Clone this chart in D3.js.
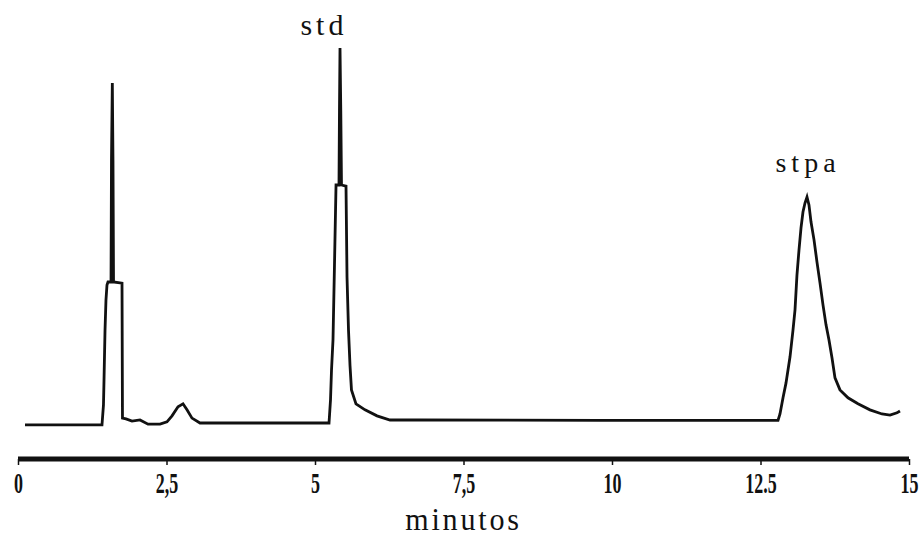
<!DOCTYPE html>
<html>
<head>
<meta charset="utf-8">
<script src="https://cdn.jsdelivr.net/npm/d3@7"></script>
<style>
  html, body { margin: 0; padding: 0; background: #fff; }
  svg { display: block; }
</style>
</head>
<body>
<svg id="chart" width="924" height="537"></svg>
<script>
// ---- data (minutes, detector signal in arbitrary units) ----
const times = [
  0.118, 0.707, 1.414, 1.439, 1.448, 1.465, 1.481, 1.498, 1.515, 1.566, 1.574, 1.588, 1.599, 1.608,
  1.751, 1.759, 1.818, 1.919, 2.054, 2.189, 2.391, 2.508, 2.593, 2.694, 2.778, 2.845, 2.929, 3.064,
  5.236, 5.261, 5.278, 5.303, 5.328, 5.354, 5.404, 5.412, 5.421, 5.434, 5.446, 5.522, 5.539, 5.564,
  5.589, 5.614, 5.690, 5.842, 6.044, 6.263, 6.768, 9.798, 12.795,
  12.828, 12.879, 12.929, 12.997, 13.047, 13.081, 13.114, 13.148, 13.182, 13.215, 13.249, 13.283,
  13.316, 13.350, 13.401, 13.451, 13.502, 13.552, 13.603, 13.653, 13.704, 13.754, 13.838, 13.973,
  14.141, 14.343, 14.545, 14.680, 14.798, 14.848
];
const signal = [
  0.3, 0.3, 0.3, 5.6, 12.2, 25.5, 33.5, 37.5, 38.3, 38.3, 70.7, 91.2, 70.7, 38.3,
  38.0, 2.1, 1.9, 1.3, 1.6, 0.5, 0.5, 1.1, 2.7, 5.1, 5.9, 4.3, 2.1, 0.8,
  0.8, 6.9, 14.9, 22.9, 42.8, 64.1, 64.1, 84.0, 100.5, 84.0, 64.1, 63.8, 39.6, 25.5,
  16.2, 9.6, 5.9, 4.3, 2.7, 1.6, 1.6, 1.5, 1.5,
  3.2, 7.5, 11.4, 18.4, 25.5, 30.9, 40.2, 46.8, 52.7, 56.9, 59.3, 60.9,
  58.8, 54.3, 49.5, 43.6, 38.0, 32.2, 26.9, 22.9, 18.1, 12.8, 9.6, 7.5,
  5.9, 4.3, 3.2, 2.9, 3.5, 4.0
];
const tickValues = [0, 2.5, 5, 7.5, 10, 12.5, 15];
const tickLabels = ["0", "2,5", "5", "7,5", "10", "12.5", "15"];
const peakNames = ["std", "stpa"];
const peakTimes = [5.15, 13.3];
const peakLabelLevels = [104, 67.5];
const xTitle = "minutos";

// ---- drawing ----
const svg = d3.select("#chart");
const x = d3.scaleLinear().domain([0, 15]).range([18, 909]);
const y = d3.scaleLinear().domain([0, 100]).range([426, 50]);
const serif = "'Liberation Serif', 'DejaVu Serif', serif";

const pts = times.map((t, i) => [t, signal[i]]);
svg.append("path")
  .datum(pts)
  .attr("fill", "none")
  .attr("stroke", "#111")
  .attr("stroke-width", 2.8)
  .attr("stroke-linejoin", "miter")
  .attr("d", d3.line().x(d => x(d[0])).y(d => y(d[1])));

// axis
const axisY = 459;
const axisG = svg.append("g").attr("transform", `translate(0,${axisY})`);
const axis = d3.axisBottom(x).tickValues(tickValues)
  .tickFormat((d, i) => tickLabels[i]).tickSize(6).tickPadding(12);
axisG.call(axis);
axisG.select(".domain").remove();
axisG.selectAll(".tick line").attr("stroke", "#111").attr("stroke-width", 1.5);
axisG.selectAll(".tick text")
  .attr("fill", "#111")
  .attr("font-family", serif)
  .attr("font-size", 29)
  .attr("font-weight", "bold")
  .attr("y", 0)
  .attr("dy", 0)
  .attr("transform", "translate(0,34) scale(0.62,1)")
  .attr("x", 0);
axisG.append("line")
  .attr("x1", x(0)).attr("x2", x(15))
  .attr("y1", 0).attr("y2", 0)
  .attr("stroke", "#111").attr("stroke-width", 5);

svg.append("text")
  .attr("transform", `translate(${x(7.5)},529.5) scale(0.94,1)`)
  .attr("text-anchor", "middle")
  .attr("font-family", serif)
  .attr("font-size", 32)
  .attr("letter-spacing", 3)
  .attr("fill", "#111")
  .text(xTitle);

peakNames.forEach((name, i) => {
  svg.append("text")
    .attr("x", x(peakTimes[i])).attr("y", y(peakLabelLevels[i]))
    .attr("text-anchor", "middle")
    .attr("font-family", serif)
    .attr("font-size", i === 0 ? 30 : 28)
    .attr("letter-spacing", i === 0 ? 4 : 5)
    .attr("fill", "#111")
    .text(name);
});
</script>
</body>
</html>
